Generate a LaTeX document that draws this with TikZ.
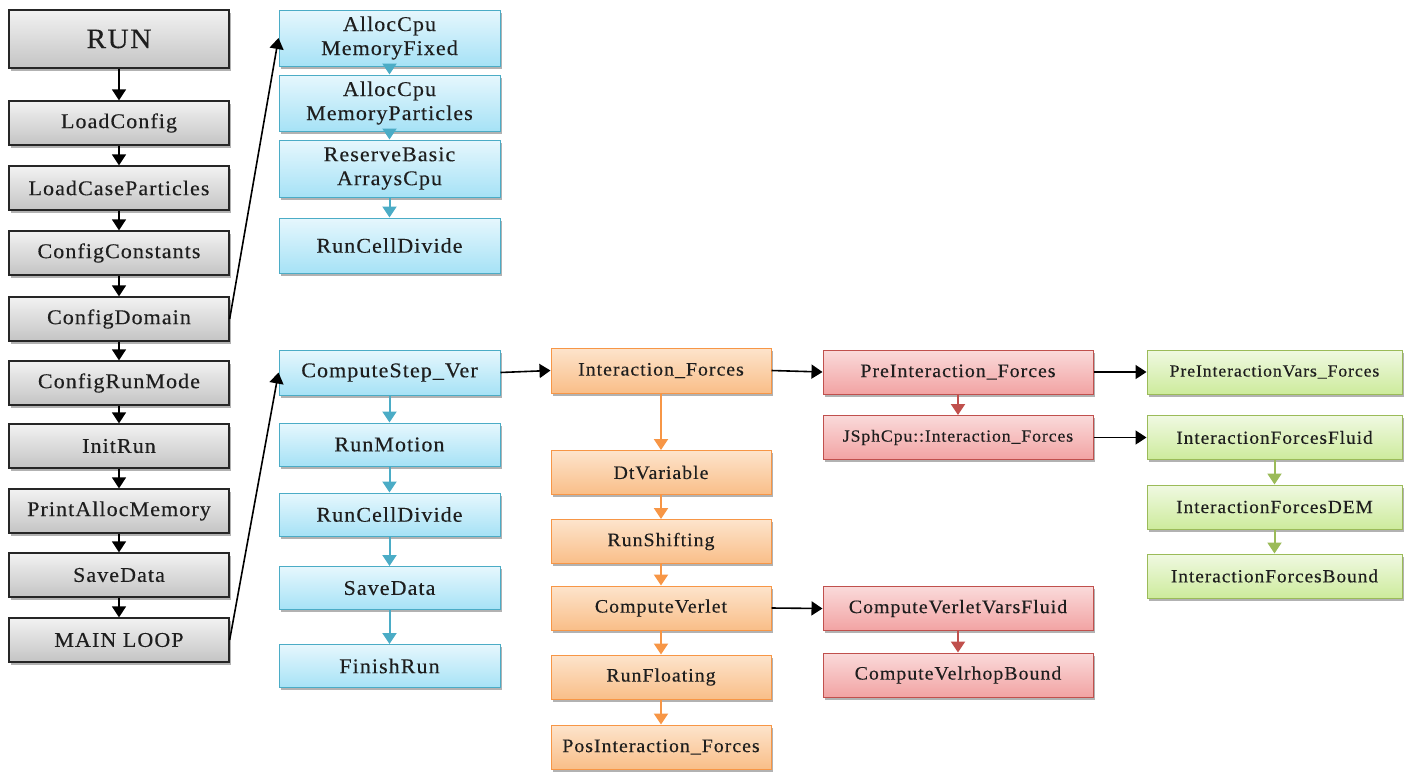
\documentclass[tikz,border=0pt]{standalone}
\usepackage{fontspec}
\setmainfont{Liberation Serif}[FakeStretch=1.05, LetterSpace=5, FakeBold=0.25]
\usetikzlibrary{arrows.meta,shadows}

\definecolor{txt}{HTML}{1E1E1E}
\definecolor{greytop}{HTML}{F2F2F2}
\definecolor{greybot}{HTML}{C4C4C4}
\definecolor{blueedge}{HTML}{4BACC6}
\definecolor{bluetop}{HTML}{E6F7FD}
\definecolor{bluebot}{HTML}{A6E2F6}
\definecolor{orangeedge}{HTML}{F79646}
\definecolor{orangetop}{HTML}{FDE4CC}
\definecolor{orangebot}{HTML}{F9BE88}
\definecolor{rededge}{HTML}{C0504D}
\definecolor{redtop}{HTML}{FADADA}
\definecolor{redbot}{HTML}{F2A3A3}
\definecolor{greenedge}{HTML}{9BBB59}
\definecolor{greentop}{HTML}{F0F9E2}
\definecolor{greenbot}{HTML}{CDEB9C}

\tikzset{
  box/.style={rectangle, inner sep=0pt, align=center, text=txt,
    font=\fontsize{21}{24}\selectfont, line width=1pt,
    drop shadow={shadow xshift=1.5pt, shadow yshift=-2.5pt, opacity=0.3, fill=black}},
  greybox/.style={box, draw=black!85, line width=1.3pt, top color=greytop, bottom color=greybot,
    minimum width=220pt, minimum height=44pt},
  bluebox/.style={box, draw=blueedge, top color=bluetop, bottom color=bluebot},
  orangebox/.style={box, draw=orangeedge, top color=orangetop, bottom color=orangebot,
    minimum width=220pt, minimum height=44pt, font=\fontsize{19}{22}\selectfont},
  redbox/.style={box, draw=rededge, top color=redtop, bottom color=redbot,
    minimum width=270pt, minimum height=44pt, font=\fontsize{19}{22}\selectfont},
  greenbox/.style={box, draw=greenedge, top color=greentop, bottom color=greenbot,
    minimum width=255pt, minimum height=44pt, font=\fontsize{18.5}{22}\selectfont},
  link/.style={-{Triangle[length=11pt,width=14pt]}, line width=1.6pt},
  blink/.style={link, draw=black},
  bluelink/.style={link, draw=blueedge, line width=2pt},
  orangelink/.style={link, draw=orangeedge, line width=2pt},
  redlink/.style={link, draw=rededge, line width=2pt},
  greenlink/.style={link, draw=greenedge, line width=2pt},
}

\begin{document}
\begin{tikzpicture}[x=1pt, y=-1pt]
\useasboundingbox (0,0) rectangle (1410,774);

% main program sequence
\node[greybox, minimum height=58pt, font=\fontsize{28}{30}\selectfont] (run) at (119,39) {RUN};
\node[greybox] (lc)  at (119,123) {LoadConfig};
\node[greybox] (lcp) at (119,188) {LoadCaseParticles};
\node[greybox] (cc)  at (119,253) {ConfigConstants};
\node[greybox] (cd)  at (119,319) {ConfigDomain};
\node[greybox] (crm) at (119,383) {ConfigRunMode};
\node[greybox] (ir)  at (119,446) {InitRun};
\node[greybox] (pam) at (119,511) {PrintAllocMemory};
\node[greybox] (sd)  at (119,575) {SaveData};
\node[greybox] (ml)  at (119,640) {MAIN LOOP};

\foreach \a/\b in {run/lc, lc/lcp, lcp/cc, cc/cd, cd/crm, crm/ir, ir/pam, pam/sd, sd/ml}
  \draw[blink] (\a.south) -- (\b.north);

% domain configuration
\begin{scope}[every node/.append style={minimum width=221pt, font=\fontsize{18.5}{24}\selectfont}]
\node[bluebox, minimum height=56pt] (amf)  at (389.5,38)    {AllocCpu\\MemoryFixed};
\node[bluebox, minimum height=56pt] (amp)  at (389.5,103)   {AllocCpu\\MemoryParticles};
\node[bluebox, minimum height=57pt] (rba)  at (389.5,168.5) {ReserveBasic\\ArraysCpu};
\node[bluebox, minimum height=55pt] (rcda) at (389.5,245.5) {RunCellDivide};
\end{scope}
\foreach \a/\b in {amf/amp, amp/rba, rba/rcda}
  \draw[bluelink] (\a.south) -- (\b.north);

% time step loop
\begin{scope}[every node/.append style={minimum width=221pt, minimum height=43pt}]
\node[bluebox, minimum height=45pt] (csv) at (389.5,372.5) {ComputeStep\_Ver};
\node[bluebox] (rm)   at (389.5,444.5) {RunMotion};
\node[bluebox] (rcdb) at (389.5,514.5) {RunCellDivide};
\node[bluebox] (sdb)  at (389.5,588)   {SaveData};
\node[bluebox] (fr)   at (389.5,666)   {FinishRun};
\end{scope}
\foreach \a/\b in {csv/rm, rm/rcdb, rcdb/sdb, sdb/fr}
  \draw[bluelink] (\a.south) -- (\b.north);

\draw[blink] (cd.east) -- (amf.west);
\draw[blink] (ml.east) -- (csv.west);

% force computation
\node[orangebox, minimum height=45pt] (inf) at (661,370.5) {Interaction\_Forces};
\node[orangebox] (dtv) at (661,472.5) {DtVariable};
\node[orangebox] (rsh) at (661,541.5) {RunShifting};
\node[orangebox] (cvl) at (661,608)   {ComputeVerlet};
\node[orangebox] (rfl) at (661,677)   {RunFloating};
\node[orangebox] (pif) at (661,747)   {PosInteraction\_Forces};
\foreach \a/\b in {inf/dtv, dtv/rsh, rsh/cvl, cvl/rfl, rfl/pif}
  \draw[orangelink] (\a.south) -- (\b.north);

\draw[blink] (csv.east) -- (inf.west);

% interaction and verlet details
\node[redbox] (pre)  at (958,372)   {PreInteraction\_Forces};
\node[redbox, font=\fontsize{17}{22}\selectfont] (jsph) at (958,437.5) {JSphCpu::Interaction\_Forces};
\node[redbox] (cvvf) at (958,608.5) {ComputeVerletVarsFluid};
\node[redbox] (cvrb) at (958,675)   {ComputeVelrhopBound};
\draw[redlink] (pre.south) -- (jsph.north);
\draw[redlink] (cvvf.south) -- (cvrb.north);

\draw[blink] (inf.east) -- (pre.west);
\draw[blink] (cvl.east) -- (cvvf.west);

% fluid and boundary interactions
\node[greenbox, font=\fontsize{17}{22}\selectfont] (pivf) at (1274.5,372) {PreInteractionVars\_Forces};
\node[greenbox] (iff) at (1274.5,437.5) {InteractionForcesFluid};
\node[greenbox] (ifd) at (1274.5,507)   {InteractionForcesDEM};
\node[greenbox] (ifb) at (1274.5,576)   {InteractionForcesBound};
\draw[greenlink] (iff.south) -- (ifd.north);
\draw[greenlink] (ifd.south) -- (ifb.north);

\draw[blink] (pre.east) -- (pivf.west);
\draw[blink] (jsph.east) -- (iff.west);
\end{tikzpicture}
\end{document}
